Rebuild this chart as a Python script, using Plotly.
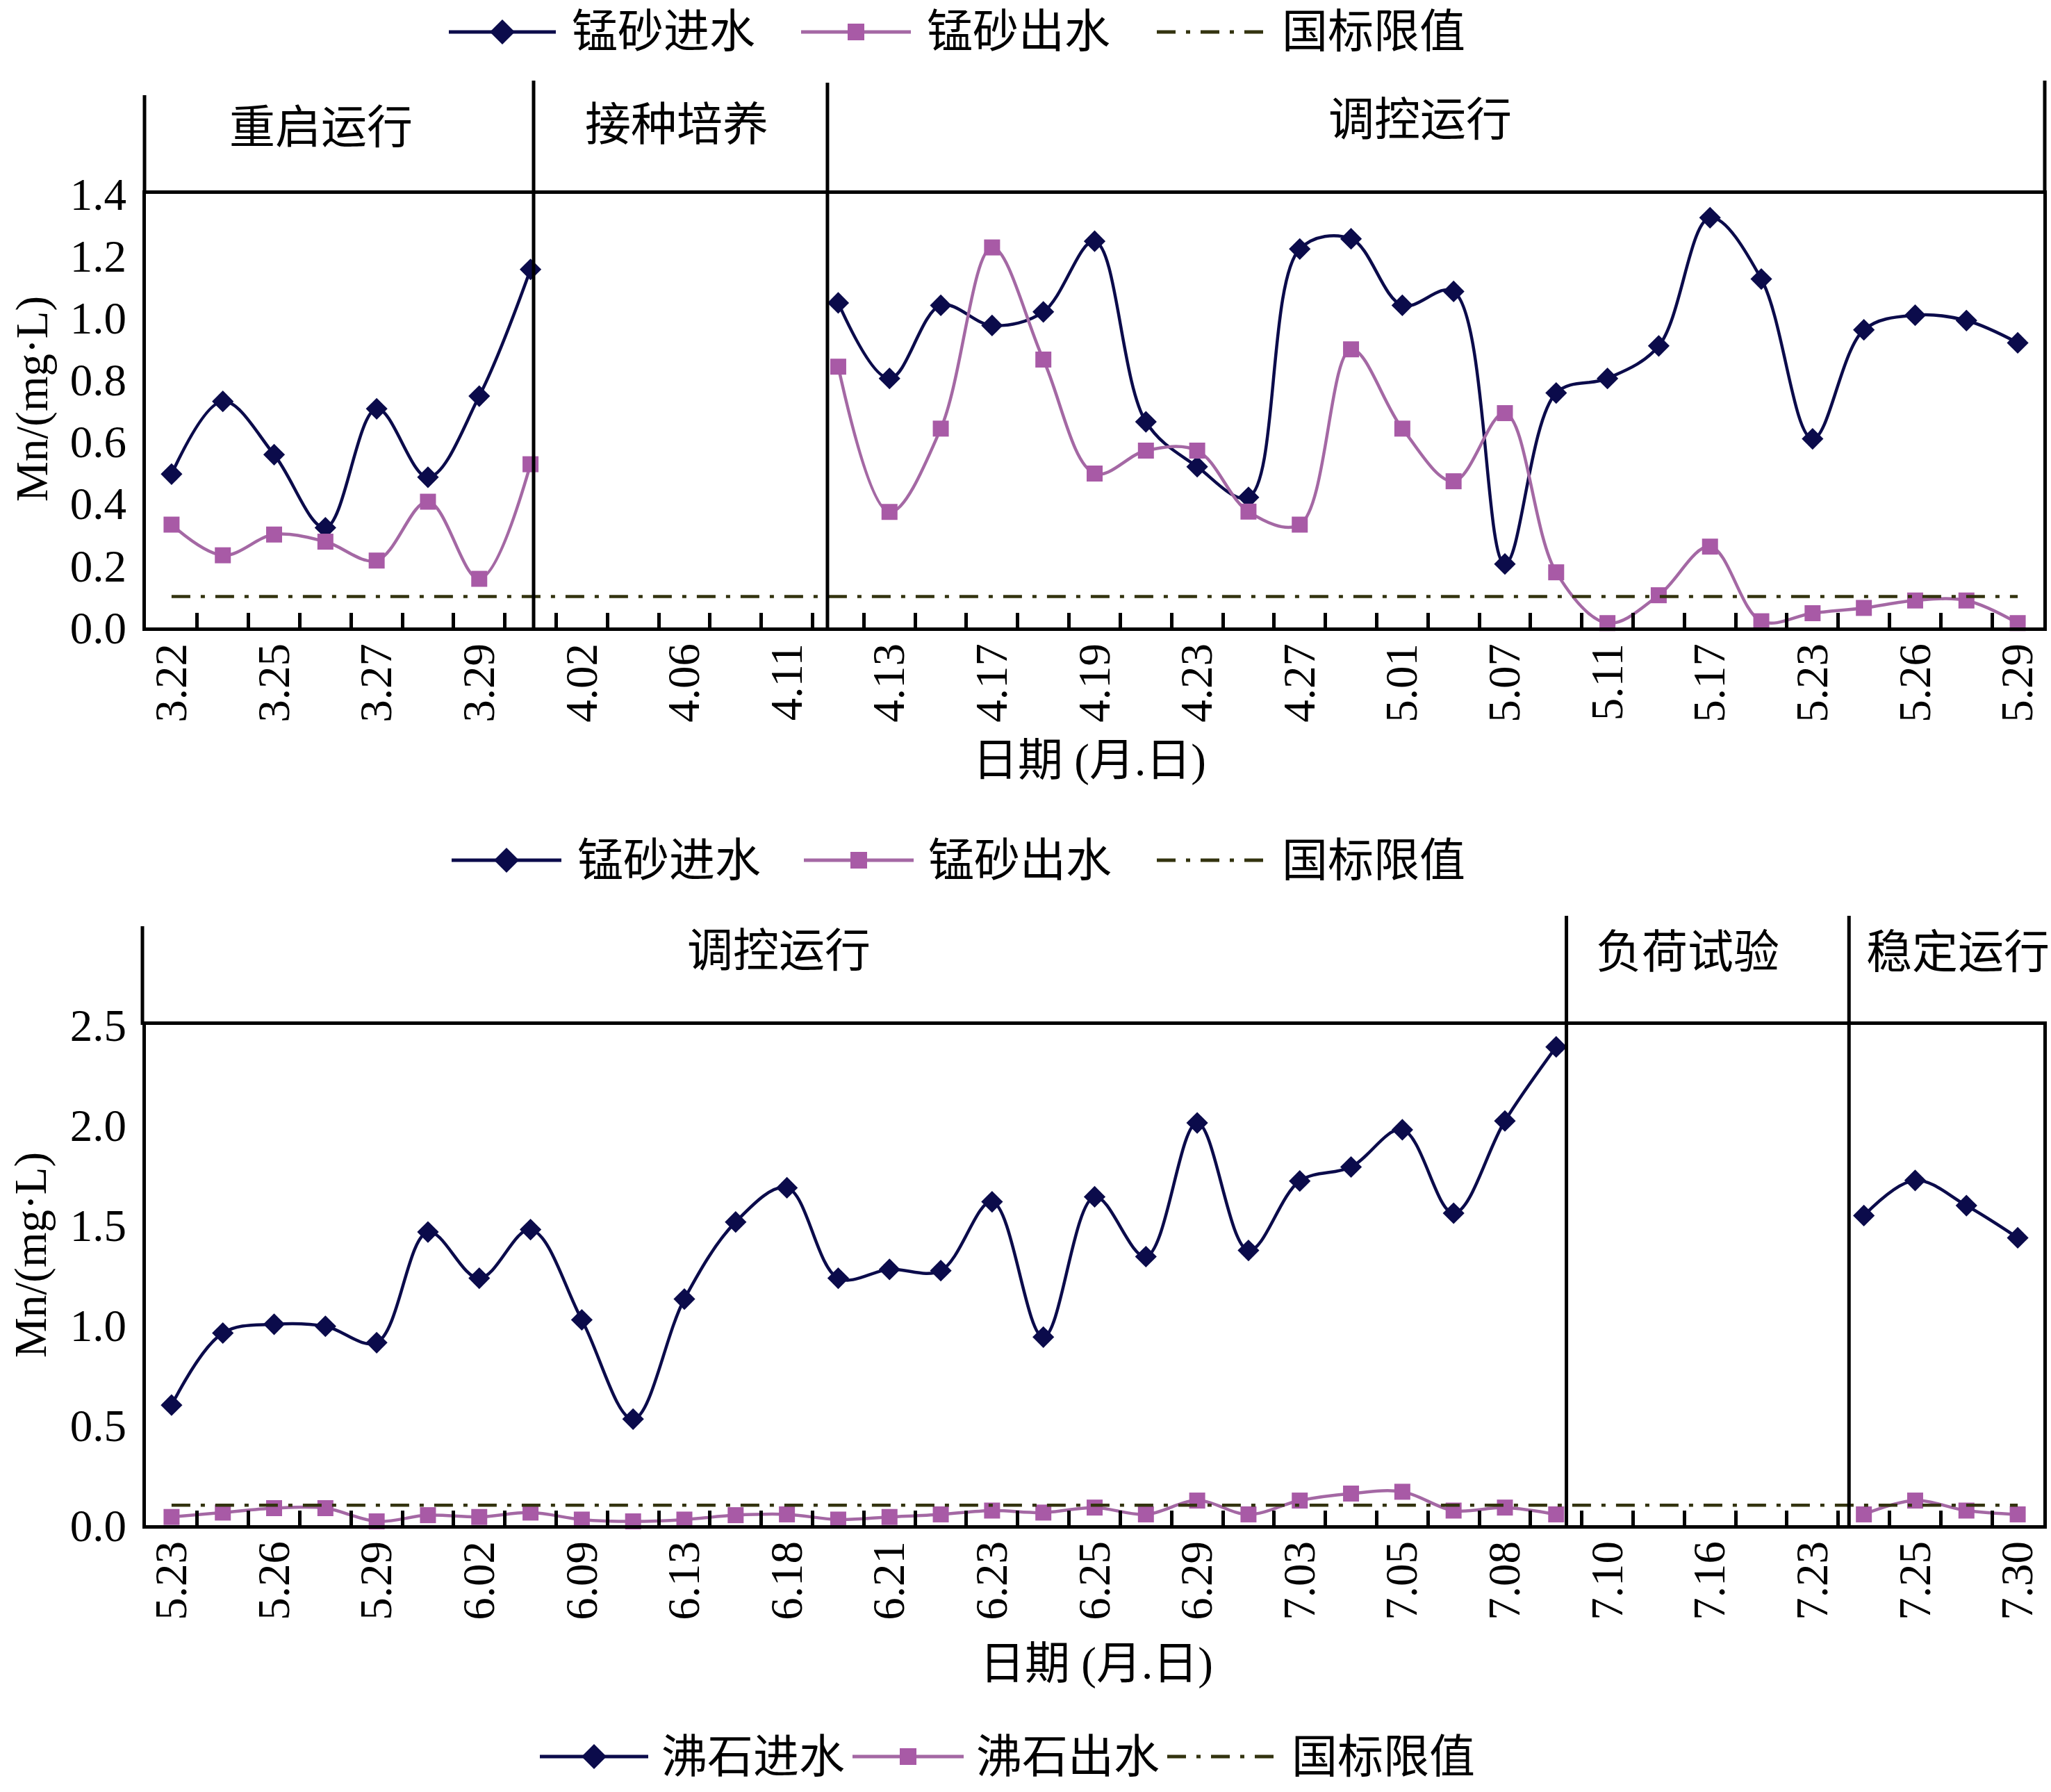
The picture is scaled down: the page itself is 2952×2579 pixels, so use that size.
import plotly.graph_objects as go

W, H = 2952, 2579
FONT = "Liberation Serif, Noto Sans CJK SC, serif"

# ---------------- data ----------------
top_tick_labels = ["3.22", "3.25", "3.27", "3.29", "4.02", "4.06", "4.11", "4.13", "4.17", "4.19",
                   "4.23", "4.27", "5.01", "5.07", "5.11", "5.17", "5.23", "5.26", "5.29"]
top_inflow = [0.495, 0.73, 0.558, 0.322, 0.706, 0.485, 0.747, 1.156,
              None, None, None, None, None,
              1.048, 0.804, 1.04, 0.975, 1.019, 1.247, 0.664, 0.519, 0.42, 1.222, 1.255, 1.04,
              1.085, 0.205, 0.757, 0.804, 0.909, 1.323, 1.125, 0.609, 0.961, 1.008, 0.991, 0.919]
top_outflow = [0.332, 0.233, 0.30, 0.277, 0.216, 0.406, 0.157, 0.527,
               None, None, None, None, None,
               0.842, 0.373, 0.642, 1.227, 0.865, 0.497, 0.571, 0.571, 0.374, 0.332, 0.898, 0.642,
               0.472, 0.692, 0.178, 0.014, 0.104, 0.261, 0.02, 0.046, 0.063, 0.087, 0.087, 0.014]
top_phases = ["重启运行", "接种培养", "调控运行"]

bot_tick_labels = ["5.23", "5.26", "5.29", "6.02", "6.09", "6.13", "6.18", "6.21", "6.23", "6.25",
                   "6.29", "7.03", "7.05", "7.08", "7.10", "7.16", "7.23", "7.25", "7.30"]
bot_inflow = [0.60, 0.96, 1.004, 0.994, 0.912, 1.465, 1.234, 1.477, 1.026, 0.53, 1.13, 1.515,
              1.686, 1.234, 1.278, 1.272, 1.616, 0.94, 1.641, 1.342, 2.01, 1.373, 1.72, 1.79,
              1.976, 1.559, 2.02, 2.39,
              None, None, None, None, None,
              1.547, 1.723, 1.597, 1.436]
bot_outflow = [0.041, 0.063, 0.085, 0.085, 0.019, 0.05, 0.041, 0.063, 0.028, 0.019, 0.028, 0.05,
               0.054, 0.028, 0.041, 0.054, 0.073, 0.063, 0.088, 0.054, 0.123, 0.054, 0.123, 0.158,
               0.167, 0.073, 0.088, 0.054,
               None, None, None, None, None,
               0.054, 0.123, 0.073, 0.054]
bot_phases = ["调控运行", "负荷试验", "稳定运行"]

LIMIT = 0.1
top_names = ["锰砂进水", "锰砂出水", "国标限值"]
bot_names = ["沸石进水", "沸石出水", "国标限值"]

# ---------------- styles ----------------
C_IN = "#0b0b4b"
C_OUT_LINE = "#a468a4"
C_OUT_MK = "#a85aa6"
C_LIM = "#33330f"
LIM_DASH = "27px,15px,6px,15px"
LW_AX = 5


def fx(px):
    return px / W


def fy(py):
    return 1 - py / H


n_cat = len(top_inflow)
xs = list(range(n_cat))
tickvals = list(range(0, n_cat, 2))
minor_vals = [i + 0.5 for i in range(n_cat - 1)]

fig = go.Figure()


def add_series(xa, ya, inflow, outflow, names):
    fig.add_trace(go.Scatter(x=xs, y=inflow, mode="lines+markers", name=names[0],
                             line=dict(color=C_IN, width=4.5, shape="spline", smoothing=1.0),
                             marker=dict(symbol="diamond", size=24, color=C_IN),
                             connectgaps=False, xaxis=xa, yaxis=ya, showlegend=False,
                             cliponaxis=False))
    fig.add_trace(go.Scatter(x=xs, y=outflow, mode="lines+markers", name=names[1],
                             line=dict(color=C_OUT_LINE, width=4.5, shape="spline", smoothing=1.0),
                             marker=dict(symbol="square", size=23, color=C_OUT_MK),
                             connectgaps=False, xaxis=xa, yaxis=ya, showlegend=False,
                             cliponaxis=False))
    fig.add_trace(go.Scatter(x=[xs[0], xs[-1]], y=[LIMIT, LIMIT], mode="lines", name=names[2],
                             line=dict(color=C_LIM, width=4.5, dash=LIM_DASH),
                             xaxis=xa, yaxis=ya, showlegend=False))


add_series("x", "y", top_inflow, top_outflow, top_names)
add_series("x2", "y2", bot_inflow, bot_outflow, bot_names)

X_DOM = [fx(210), fx(2941)]
TOP_Y = (279, 903)
BOT_Y = (1475, 2195)


def xaxis_cfg(labels, anchor):
    return dict(domain=X_DOM, anchor=anchor, range=[-0.5, n_cat - 0.5], automargin=False,
                tickmode="array", tickvals=tickvals, ticktext=labels, tickangle=-90,
                ticks="", showline=True, linewidth=LW_AX, linecolor="black", mirror=True,
                showgrid=False, zeroline=False, ticklabelstandoff=-8,
                tickfont=dict(family=FONT, size=65, color="black"),
                minor=dict(tickmode="array", tickvals=minor_vals, ticks="inside",
                           ticklen=21, tickwidth=LW_AX, tickcolor="black", showgrid=False))


def yaxis_cfg(ymax, step, dom, anchor):
    vals = []
    v = 0.0
    while v <= ymax + 1e-9:
        vals.append(round(v, 2))
        v += step
    return dict(domain=[fy(dom[1]), fy(dom[0])], anchor=anchor, range=[0, ymax],
                automargin=False,
                tickmode="array", tickvals=vals, ticktext=[f"{t:.1f}" for t in vals],
                ticks="", showline=True, linewidth=LW_AX, linecolor="black", mirror=True,
                showgrid=False, zeroline=False, ticklabelstandoff=10,
                tickfont=dict(family=FONT, size=65, color="black"))


fig.update_layout(
    width=W, height=H, margin=dict(l=0, r=0, t=0, b=0, pad=0, autoexpand=False),
    paper_bgcolor="white", plot_bgcolor="rgba(0,0,0,0)",
    showlegend=False,
    xaxis=xaxis_cfg(top_tick_labels, "y"),
    yaxis=yaxis_cfg(1.4, 0.2, TOP_Y, "x"),
    xaxis2=xaxis_cfg(bot_tick_labels, "y2"),
    yaxis2=yaxis_cfg(2.5, 0.5, BOT_Y, "x2"),
)

shapes = []
annos = []


def vline_data(xref, xv, y0px, y1px):
    shapes.append(dict(type="line", xref=xref, yref="paper", x0=xv, x1=xv,
                       y0=fy(y0px), y1=fy(y1px), line=dict(color="black", width=LW_AX)))


def vline_px(xpx, y0px, y1px):
    shapes.append(dict(type="line", xref="paper", yref="paper", x0=fx(xpx), x1=fx(xpx),
                       y0=fy(y0px), y1=fy(y1px), line=dict(color="black", width=LW_AX)))


# top chart: axis extensions and phase separators
vline_px(208, 279, 137)
vline_px(2943, 279, 116)
vline_data("x", 7.06, TOP_Y[1], 116)
vline_data("x", 12.79, TOP_Y[1], 119)
# bottom chart
vline_px(205, 1475, 1333)
vline_data("x2", 27.20, BOT_Y[1], 1318)
vline_data("x2", 32.71, BOT_Y[1], 1318)


def text(x, y, s, xanchor="center", size=65, angle=0):
    annos.append(dict(x=fx(x), y=fy(y), xref="paper", yref="paper", text=s, showarrow=False,
                      xanchor=xanchor, yanchor="middle", textangle=angle,
                      font=dict(family=FONT, size=size, color="black")))


# phase labels
for (px, py), s in zip([(462, 183), (974, 179), (2044, 172)], top_phases):
    text(px, py, s, size=66)
for (px, py), s in zip([(1121, 1369), (2429, 1370), (2818, 1370)], bot_phases):
    text(px, py, s, size=66)

# axis titles
text(46, 574, "Mn/(mg·L)", angle=-90)
text(44, 1806, "Mn/(mg·L)", angle=-90)
text(1568, 1094, "日期 (月.日)")
text(1578, 2394, "日期 (月.日)")


# manual legends
def legend_item(kind, x0, x1, y, tx, label):
    color = {"in": C_IN, "out": C_OUT_LINE, "lim": C_LIM}[kind]
    if kind == "lim":
        shapes.append(dict(type="line", xref="paper", yref="paper", x0=fx(x0), x1=fx(x1),
                           y0=fy(y), y1=fy(y), line=dict(color=color, width=5, dash=LIM_DASH)))
    else:
        shapes.append(dict(type="line", xref="paper", yref="paper", x0=fx(x0), x1=fx(x1),
                           y0=fy(y), y1=fy(y), line=dict(color=color, width=5)))
        xc = (x0 + x1) / 2
        if kind == "in":
            h = 18
            path = (f"M {fx(xc - h)},{fy(y)} L {fx(xc)},{fy(y - h)} "
                    f"L {fx(xc + h)},{fy(y)} L {fx(xc)},{fy(y + h)} Z")
            shapes.append(dict(type="path", xref="paper", yref="paper", path=path,
                               fillcolor=C_IN, line=dict(width=0)))
        else:
            h = 12
            shapes.append(dict(type="rect", xref="paper", yref="paper",
                               x0=fx(xc - h), x1=fx(xc + h), y0=fy(y + h), y1=fy(y - h),
                               fillcolor=C_OUT_MK, line=dict(width=0)))
    text(tx, y, label, xanchor="left", size=66)


kinds = ["in", "out", "lim"]
# top legend
for k, (a, b, t), s in zip(kinds, [(646, 800, 821), (1153, 1311, 1332), (1665, 1819, 1843)], top_names):
    legend_item(k, a, b, 46, t, s)
# middle legend (as printed in the original figure)
for k, (a, b, t), s in zip(kinds, [(650, 808, 829), (1157, 1315, 1334), (1665, 1819, 1843)], top_names):
    legend_item(k, a, b, 1238, t, s)
# bottom legend
for k, (a, b, t), s in zip(kinds, [(777, 933, 950), (1227, 1387, 1403), (1680, 1838, 1857)], bot_names):
    legend_item(k, a, b, 2528, t, s)

fig.update_layout(shapes=shapes, annotations=annos)
fig.write_html("out.html")
